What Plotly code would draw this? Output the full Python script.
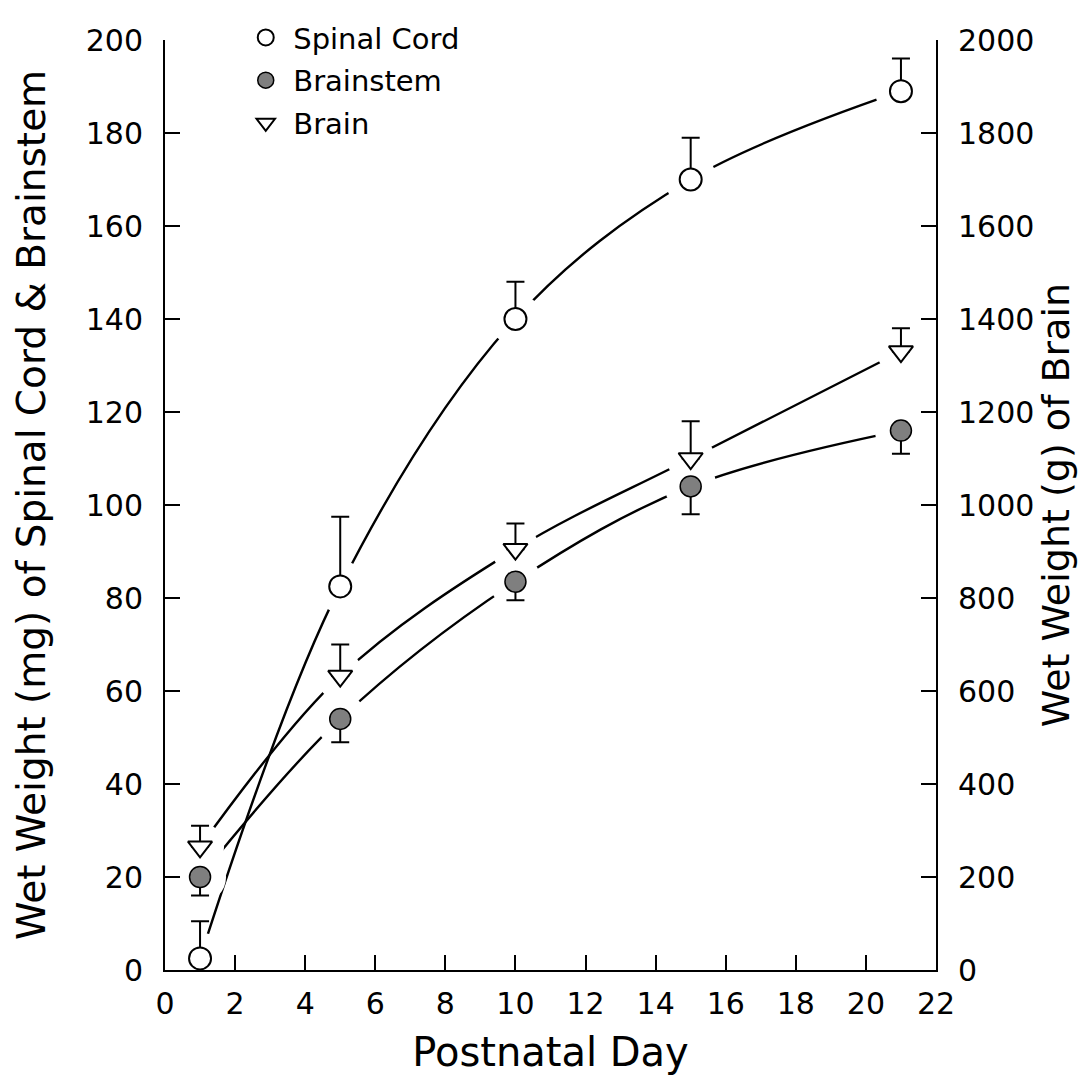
import plotly.graph_objects as go

# ---- data ----
days = [1, 5, 10, 15, 21]
spinal_cord = [2.5, 82.5, 140, 170, 189]
spinal_cord_se = [8, 15, 8, 9, 7]
brainstem = [20, 54, 83.5, 104, 116]
brainstem_se = [4, 5, 4, 6, 5]
brain = [265, 632, 905, 1100, 1330]
brain_se = [45, 68, 55, 80, 50]

x_ticks = list(range(0, 23, 2))
left_ticks = list(range(0, 201, 20))
right_ticks = list(range(0, 2001, 200))

FONT = "DejaVu Sans"
BLACK = "black"
GREY = "#7f7f7f"
HALO = 52
SCALE = 10  # left axis (mg) -> right axis units, both axes share the same pixel range

sc_r = [v * SCALE for v in spinal_cord]
sc_se_r = [v * SCALE for v in spinal_cord_se]
bs_r = [v * SCALE for v in brainstem]
bs_se_r = [v * SCALE for v in brainstem_se]

fig = go.Figure()

# fitted curves (smooth lines through the means)
line_style = dict(color=BLACK, width=2.4, shape="spline")
fig.add_trace(go.Scatter(x=days, y=spinal_cord, mode="lines", line=line_style, showlegend=False, hoverinfo="skip"))
fig.add_trace(go.Scatter(x=days, y=brainstem, mode="lines", line=line_style, showlegend=False, hoverinfo="skip"))
fig.add_trace(go.Scatter(x=days, y=brain, mode="lines", yaxis="y2", line=line_style, showlegend=False, hoverinfo="skip"))

# white halos that break the lines around each symbol
for yy, sz in ((sc_r, HALO), (bs_r, HALO), (brain, HALO - 4)):
    fig.add_trace(go.Scatter(x=days, y=yy, mode="markers", yaxis="y2",
                             marker=dict(size=sz, color="white", line=dict(width=0)),
                             showlegend=False, hoverinfo="skip"))

err_style = dict(color=BLACK, thickness=2, width=9)

fig.add_trace(go.Scatter(
    x=days, y=sc_r, mode="markers", name="Spinal Cord", showlegend=False, yaxis="y2",
    marker=dict(symbol="circle", size=22, color="white", line=dict(color=BLACK, width=2)),
    error_y=dict(type="data", symmetric=False, array=sc_se_r, arrayminus=[0] * len(days), **err_style)))
fig.add_trace(go.Scatter(
    x=days, y=bs_r, mode="markers", name="Brainstem", showlegend=False, yaxis="y2",
    marker=dict(symbol="circle", size=21, color=GREY, line=dict(color=BLACK, width=1.5)),
    error_y=dict(type="data", symmetric=False, array=[0] * len(days), arrayminus=bs_se_r, **err_style)))
fig.add_trace(go.Scatter(
    x=days, y=brain, mode="markers", name="Brain", yaxis="y2", showlegend=False,
    marker=dict(symbol="triangle-down", size=21, color="white", line=dict(color=BLACK, width=2)),
    error_y=dict(type="data", symmetric=False, array=brain_se, arrayminus=[0] * len(days), **err_style)))

# legend entries
fig.add_trace(go.Scatter(x=[None], y=[None], mode="markers", name="Spinal Cord", legendgroup="a",
                         marker=dict(symbol="circle", size=16, color="white", line=dict(color=BLACK, width=2))))
fig.add_trace(go.Scatter(x=[None], y=[None], mode="markers", name="Brainstem", legendgroup="b",
                         marker=dict(symbol="circle", size=16, color=GREY, line=dict(color=BLACK, width=1.5))))
fig.add_trace(go.Scatter(x=[None], y=[None], mode="markers", name="Brain", legendgroup="c",
                         marker=dict(symbol="triangle-down", size=16, color="white", line=dict(color=BLACK, width=2))))

axis_common = dict(showgrid=False, zeroline=False, showline=True, linecolor=BLACK, linewidth=2,
                   ticks="inside", ticklen=15, tickwidth=2, tickcolor=BLACK,
                   tickfont=dict(family=FONT, size=30, color=BLACK))

fig.update_layout(
    width=1089, height=1082,
    margin=dict(l=165, r=153, t=24, b=112),
    paper_bgcolor="white", plot_bgcolor="white",
    font=dict(family=FONT, color=BLACK),
    xaxis=dict(range=[0, 22], tickvals=x_ticks, ticktext=[str(v) for v in x_ticks],
               title=dict(text="Postnatal Day", font=dict(family=FONT, size=40), standoff=18),
               ticklabelstandoff=6, **axis_common),
    yaxis=dict(range=[0, 200], tickvals=left_ticks, ticktext=[str(v) for v in left_ticks],
               title=dict(text="Wet Weight (mg) of Spinal Cord & Brainstem", font=dict(family=FONT, size=39), standoff=28),
               ticklabelstandoff=14, **axis_common),
    yaxis2=dict(range=[0, 2000], overlaying="y", side="right", tickvals=right_ticks,
                ticktext=[str(v) for v in right_ticks],
                title=dict(text="Wet Weight (g) of Brain", font=dict(family=FONT, size=38), standoff=6),
                ticklabelstandoff=14, **axis_common),
    legend=dict(x=0.095, y=1.03, xanchor="left", yanchor="top", bgcolor="rgba(0,0,0,0)",
                font=dict(family=FONT, size=29, color=BLACK), tracegroupgap=2, itemsizing="trace",
                itemwidth=45),
    showlegend=True,
)

fig.write_html("out.html")
